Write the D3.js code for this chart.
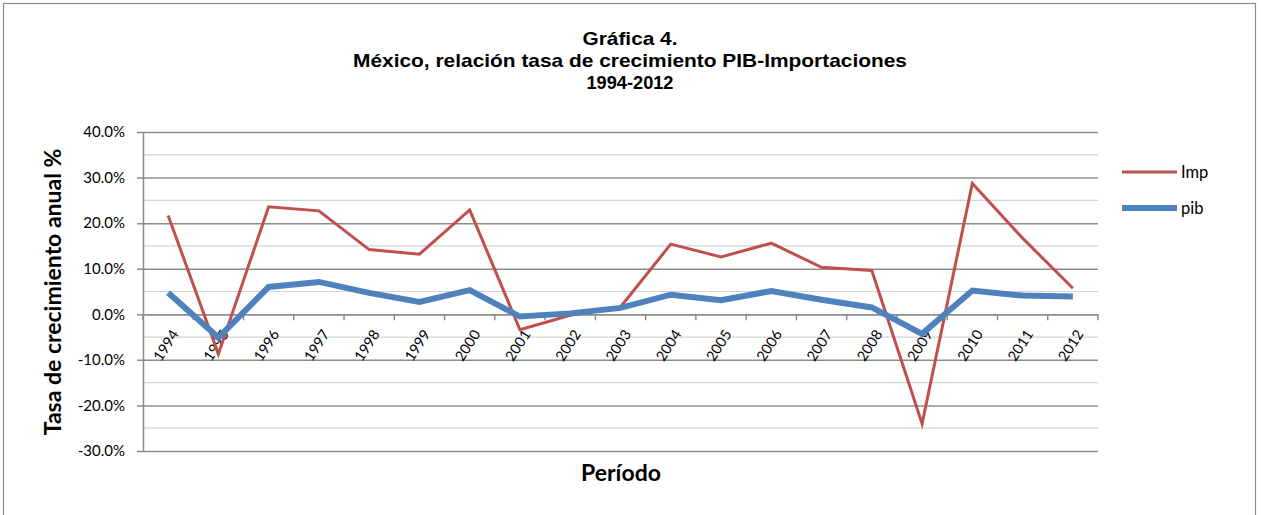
<!DOCTYPE html>
<html><head><meta charset="utf-8">
<script src="https://cdn.jsdelivr.net/npm/d3@7"></script>
<style>body{margin:0;background:#fff}svg{display:block}</style>
</head><body>
<svg id="c" width="1261" height="515"></svg>
<script>
const years = ["1994","1995","1996","1997","1998","1999","2000","2001","2002","2003","2004","2005","2006","2007","2008","2009","2010","2011","2012"];
const imp = [21.7,-8.7,23.6,22.7,14.2,13.2,22.9,-3.4,-0.2,1.6,15.4,12.6,15.6,10.3,9.6,-24.0,28.7,16.7,5.7];
const pib = [4.7,-5.1,6.0,7.1,4.7,2.7,5.3,-0.5,0.2,1.4,4.3,3.1,5.1,3.2,1.5,-4.3,5.2,4.1,3.9];
const yTicks = [40,30,20,10,0,-10,-20,-30];
const titleLines = ["Gráfica 4.","México, relación tasa de crecimiento PIB-Importaciones","1994-2012"];
const seriesNames = ["Imp","pib"];

const svg = d3.select("#c");
const L = 143, R = 1098, T = 132, B = 451;
const x = d3.scaleBand().domain(years).range([L, R]).paddingInner(0).paddingOuter(0);
const y = d3.scaleLinear().domain([-30, 40]).range([B, T]);
const cx = d => x(d) + x.bandwidth()/2;
const loc = d3.formatLocale({decimal:".", thousands:",", grouping:[3], currency:["$",""], minus:"-"});
const fmt = loc.format(".1f");

// outer border
svg.append("rect").attr("x",3.5).attr("y",3.5).attr("width",1252).attr("height",530)
  .attr("fill","none").attr("stroke","#8a8a8a").attr("stroke-width",1.2);

// title
const tWidths = [95, 554, 87];
titleLines.forEach((t,i)=>svg.append("text").attr("text-anchor","middle")
  .attr("font-family","'Liberation Sans', Arial, sans-serif").attr("font-weight","bold")
  .attr("font-size",19).attr("fill","#000")
  .attr("x",630).attr("y",45+i*22)
  .attr("textLength",tWidths[i]).attr("lengthAdjust","spacingAndGlyphs").text(t));

// minor gridlines
const minor = d3.range(-25, 40, 10);
svg.append("g").selectAll("line").data(minor).join("line")
  .attr("x1",L).attr("x2",R).attr("y1",d=>y(d)).attr("y2",d=>y(d))
  .attr("stroke","#d4d4d4").attr("stroke-width",1.2);

// y axis with major gridlines
const yAxis = d3.axisLeft(y).tickValues(yTicks).tickSize(-(R-L)).tickSizeOuter(0)
  .tickFormat(d => fmt(d) + "%");
const gy = svg.append("g").attr("transform",`translate(${L},0)`).call(yAxis);
gy.select(".domain").attr("stroke","#8c8c8c").attr("stroke-width",1.5);
gy.selectAll(".tick line").attr("stroke","#8c8c8c").attr("stroke-width",1.5).attr("x1",-6);
gy.selectAll(".tick text").attr("x",-18).attr("font-family","Lato, 'Open Sans', sans-serif")
  .attr("font-size",15).attr("fill","#000");

// x axis at 0
const xAxis = d3.axisBottom(x).tickSize(0).tickSizeOuter(0);
const gx = svg.append("g").attr("transform",`translate(0,${y(0)})`).call(xAxis);
gx.select(".domain").attr("stroke","#8c8c8c").attr("stroke-width",1.5);
gx.selectAll(".tick text").attr("font-family","Lato, 'Open Sans', sans-serif").attr("font-size",14.5)
  .attr("fill","#000").attr("text-anchor","end").attr("y",0).attr("dy","0.35em")
  .attr("transform","translate(7,17) rotate(-57)");
// category boundary tick marks
const bounds = years.map(d=>x(d)).concat([R]);
svg.append("g").selectAll("line").data(bounds).join("line")
  .attr("x1",d=>d).attr("x2",d=>d).attr("y1",y(0)).attr("y2",y(0)+6)
  .attr("stroke","#8c8c8c").attr("stroke-width",1.5);

// lines
const line = d3.line().x((d,i)=>cx(years[i])).y(d=>y(d));
svg.append("path").datum(imp).attr("d",line).attr("fill","none")
  .attr("stroke","#C0504D").attr("stroke-width",3).attr("stroke-linejoin","miter");
svg.append("path").datum(pib).attr("d",line).attr("fill","none")
  .attr("stroke","#4F81BD").attr("stroke-width",6).attr("stroke-linejoin","miter");

// legend
const lg = svg.append("g");
const lcol = ["#C0504D","#4F81BD"], lw = [3,6];
seriesNames.forEach((n,i)=>{
  const yy = 172 + i*36;
  lg.append("line").attr("x1",1122).attr("x2",1177).attr("y1",yy).attr("y2",yy)
    .attr("stroke",lcol[i]).attr("stroke-width",lw[i]);
  lg.append("text").attr("x",1181).attr("y",yy).attr("dy","0.35em")
    .attr("font-family","Lato, 'Open Sans', sans-serif").attr("font-size",16.5).text(n);
});

// axis titles
svg.append("text").attr("transform",`translate(61,${(147+437)/2}) rotate(-90)`)
  .attr("text-anchor","middle").attr("font-family","Lato, 'Open Sans', sans-serif")
  .attr("font-weight","bold").attr("font-size",23).text("Tasa de crecimiento anual %");
svg.append("text").attr("x",621).attr("y",481).attr("text-anchor","middle")
  .attr("font-family","Lato, 'Open Sans', sans-serif").attr("font-weight","bold").attr("font-size",23).text("Período");
</script>
</body></html>
